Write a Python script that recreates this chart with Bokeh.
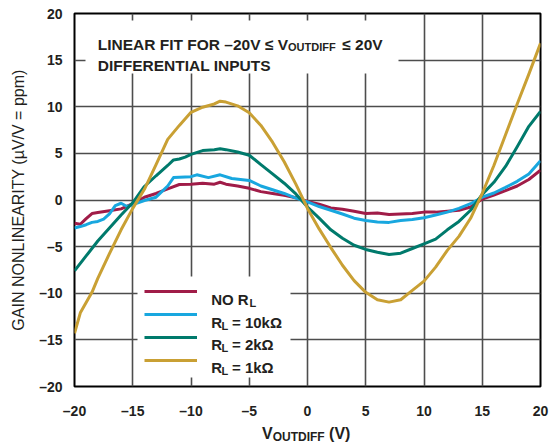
from bokeh.plotting import figure
from bokeh.models import (FixedTicker, Label, BoxAnnotation, Legend, LegendItem, Range1d, Div)
from bokeh.layouts import column
from bokeh.core.properties import value
from bokeh.embed import file_html
from bokeh.resources import INLINE

# ---------------- data ----------------
x_ticks = [-20, -15, -10, -5, 0, 5, 10, 15, 20]
y_ticks = [-20, -15, -10, -5, 0, 5, 10, 15, 20]
tick_labels = ["–20", "–15", "–10", "–5", "0", "5", "10", "15", "20"]

no_rl_x = [-20, -19.5, -19, -18.5, -18, -17, -16, -15, -14, -13, -12, -11, -10, -9, -8, -7.5, -7, -6, -5,
           -4, -3, -2, -1, 0, 1, 2, 3, 4, 5, 6, 7, 8, 9, 10, 11, 12, 13, 14, 15, 16, 17, 18, 19, 20]
no_rl_y = [-2.5, -2.6, -2.0, -1.45, -1.35, -1.15, -0.95, -0.4, 0.3, 0.7, 1.2, 1.66, 1.7, 1.8, 1.7, 1.9, 1.7, 1.5, 1.25,
           0.9, 0.7, 0.5, 0.25, -0.15, -0.45, -0.85, -1.0, -1.2, -1.45, -1.4, -1.55, -1.5, -1.45, -1.3, -1.3, -1.2, -1.1,
           -0.75, 0.1, 0.54, 1.0, 1.5, 2.2, 3.2]

r10k_x = [-20, -19.5, -19, -18.5, -18, -17.5, -17, -16.5, -16, -15.5, -15, -14, -13, -12, -11.5, -11, -10, -9.5, -8.5,
          -7.5, -6.5, -5, -4, -3, -2, -1, 0, 1, 2, 3, 4, 5, 6, 7, 8, 9, 10, 11, 12, 13, 14, 15, 16, 17, 18, 19, 20]
r10k_y = [-3.0, -2.85, -2.65, -2.4, -2.3, -2.05, -1.5, -0.6, -0.35, -0.7, -0.5, -0.05, 0.3, 1.5, 2.4, 2.45, 2.5, 2.7, 2.4,
          2.7, 2.3, 2.1, 1.5, 1.1, 0.7, 0.2, -0.2, -0.7, -1.1, -1.5, -1.95, -2.2, -2.35, -2.4, -2.2, -2.1, -1.9, -1.6, -1.3,
          -0.9, -0.4, 0.3, 0.75, 1.35, 2.0, 2.8, 4.2]

r2k_x = [-20, -19, -18, -17, -16, -15, -14, -13, -12, -11.5, -11, -10.5, -10, -9, -8, -7.5, -7, -6, -5, -4, -3, -2,
         -1, 0, 1, 2, 3, 4, 5, 6, 7, 8, 9, 10, 11, 12, 13, 14, 15, 16, 17, 18, 19, 20]
r2k_y = [-7.6, -6.0, -4.4, -3.0, -1.6, -0.3, 1.45, 2.6, 3.7, 4.3, 4.4, 4.6, 4.9, 5.3, 5.4, 5.5, 5.4, 5.15, 4.8, 3.8, 2.8, 1.8,
         0.65, -0.75, -1.95, -3.2, -4.1, -4.85, -5.3, -5.6, -5.85, -5.7, -5.2, -4.7, -4.2, -3.2, -2.3, -1.1, 0.6, 1.9, 3.6,
         5.7, 7.9, 9.5]

r1k_x = [-20, -19.5, -19, -18.5, -18, -17, -16, -15, -14, -13, -12, -11, -10, -9, -8, -7.5, -7, -6, -5, -4, -3, -2,
         -1, 0, 1, 2, 3, 4, 5, 6, 7, 8, 9, 10, 11, 12, 13, 14, 15, 16, 17, 18, 19, 20]
r1k_y = [-14.3, -12.1, -11.0, -9.9, -8.4, -5.75, -3.2, -0.9, 1.15, 3.8, 6.5, 8.0, 9.4, 9.95, 10.3, 10.6, 10.5, 10.1, 9.35,
         8.0, 6.2, 4.1, 1.7, -0.9, -3.1, -5.1, -7.0, -8.65, -9.9, -10.7, -10.95, -10.7, -9.7, -8.7, -7.2, -5.4, -3.9,
         -1.96, 0.7, 3.7, 7.0, 10.3, 13.5, 16.8]

colors = ["#a01c48", "#18a7df", "#007a6c", "#c9a034"]

# ---------------- layout helpers (page px -> data) ----------------
FRAME_L, FRAME_T, FRAME_W, FRAME_H = 74, 13, 466, 373
def dx(px):
    return (px - FRAME_L) / FRAME_W * 40 - 20
def dy(py):
    return (FRAME_T + FRAME_H - py) / FRAME_H * 40 - 20

FONT = "Liberation Sans"
TXT = "#231f20"

fig = figure(frame_width=FRAME_W, frame_height=FRAME_H,
             x_range=Range1d(-20, 20), y_range=Range1d(-20, 20),
             output_backend="svg", toolbar_location=None,
             min_border_left=FRAME_L, min_border_top=FRAME_T, min_border_right=11, min_border_bottom=36)
fig.background_fill_color = "white"
fig.border_fill_color = "white"
fig.outline_line_color = "black"
fig.outline_line_width = 2

for ax, ticks in ((fig.xaxis[0], x_ticks), (fig.yaxis[0], y_ticks)):
    ax.ticker = FixedTicker(ticks=ticks)
    ax.major_label_overrides = {t: l for t, l in zip(ticks, tick_labels)}
    ax.axis_line_color = None
    ax.major_tick_line_color = None
    ax.minor_tick_line_color = None
    ax.major_tick_out = 0
    ax.major_tick_in = 0
    ax.major_label_text_font = FONT
    ax.major_label_text_font_style = "bold"
    ax.major_label_text_font_size = "14px"
    ax.major_label_text_color = TXT
fig.xaxis[0].major_label_standoff = 16
fig.yaxis[0].major_label_standoff = 12

yax = fig.yaxis[0]
yax.axis_label = "GAIN NONLINEARITY (µV/V = ppm)"
yax.axis_label_text_font = FONT
yax.axis_label_text_font_style = "normal"
yax.axis_label_text_font_size = "16px"
yax.axis_label_text_color = TXT
yax.axis_label_standoff = 9

fig.xgrid.ticker = FixedTicker(ticks=x_ticks)
fig.ygrid.ticker = FixedTicker(ticks=y_ticks)
for g in (fig.xgrid[0], fig.ygrid[0]):
    g.grid_line_color = "#4d4d4d"
    g.grid_line_width = 1.6

renderers = []
for xs, ys, c in ((no_rl_x, no_rl_y, colors[0]), (r10k_x, r10k_y, colors[1]),
                  (r2k_x, r2k_y, colors[2]), (r1k_x, r1k_y, colors[3])):
    r = fig.line(xs, ys, line_color=c, line_width=3, line_join="round")
    renderers.append(r)

# white areas behind the annotation text and the legend
fig.add_layout(BoxAnnotation(left=dx(85), right=dx(398), top=dy(20), bottom=dy(73),
                             fill_color="white", fill_alpha=1, line_color=None))
fig.add_layout(BoxAnnotation(left=dx(137), right=dx(290), top=dy(276), bottom=dy(377),
                             fill_color="white", fill_alpha=1, line_color=None))

legend = Legend(items=[LegendItem(label=value(" "), renderers=[r]) for r in renderers],
                location=(70, 16), orientation="vertical",
                glyph_width=53, glyph_height=20, label_height=20, label_width=73,
                label_standoff=14, padding=6, spacing=3, margin=0,
                background_fill_alpha=0, border_line_color=None,
                label_text_font_size="1px")
fig.add_layout(legend, "center")

def lab(px, py, text, size, bold=True):
    fig.add_layout(Label(x=dx(px), y=dy(py), text=text, text_font=FONT,
                         text_font_style="bold" if bold else "normal",
                         text_font_size=f"{size}px", text_color=TXT,
                         text_align="left", text_baseline="alphabetic"))

# annotation
lab(97.3, 44, "LINEAR FIT FOR –20V ≤ V", 15.5)
lab(287.5, 46.7, "OUTDIFF", 11)
lab(341.7, 44, "≤ 20V", 15.5)
lab(97.3, 65, "DIFFERENTIAL INPUTS", 15.5)

# legend texts
rows = [299, 321.7, 344, 366.7]
lab(210.7, rows[0], "NO R", 15)
lab(249, rows[0] + 3.5, "L", 11)
for i, rest in zip(range(1, 4), ["= 10kΩ", "= 2kΩ", "= 1kΩ"]):
    lab(210.7, rows[i], "R", 15)
    lab(221, rows[i] + 3.5, "L", 11)
    lab(231.5, rows[i], rest, 15)

fig_height = FRAME_T + FRAME_H + 36

# x-axis title (with subscript) below the plot
xtitle = Div(text=(f"<div style=\"font-family:'{FONT}';font-weight:bold;font-size:16px;color:{TXT};"
                   "line-height:24px;padding-left:262px;white-space:nowrap\">V"
                   "<span style=\"font-size:12px;position:relative;top:2px\">OUTDIFF</span> (V)</div>"),
             width=FRAME_L + FRAME_W + 11, height=446 - fig_height, margin=(0, 0, 0, 0))

p = column(fig, xtitle, spacing=0)

open("out.html", "w").write(file_html(p, INLINE))
